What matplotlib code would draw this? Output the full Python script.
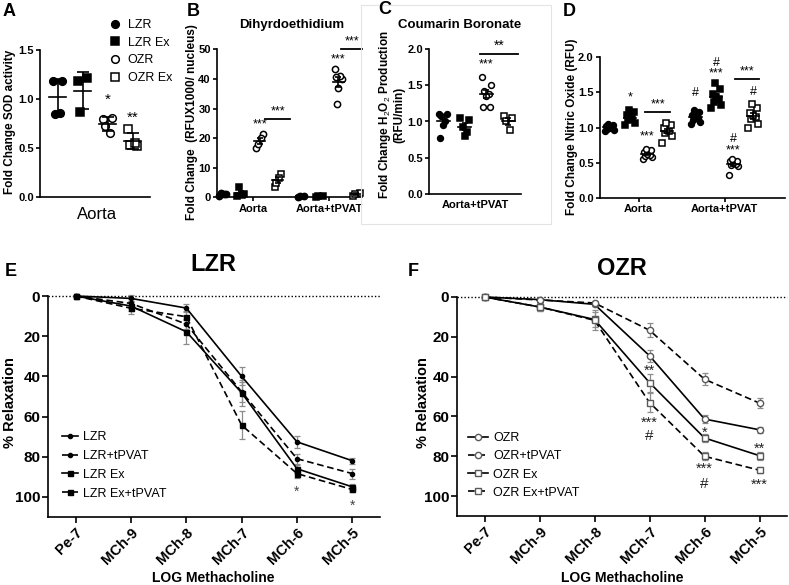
import matplotlib
matplotlib.use("Agg")
import matplotlib.pyplot as plt
from matplotlib.lines import Line2D
from matplotlib.patches import Rectangle
import numpy as np

plt.rcParams['font.family'] = ['Liberation Sans', 'DejaVu Sans']
plt.rcParams['mathtext.fontset'] = 'custom'
plt.rcParams['mathtext.rm'] = 'Liberation Sans'
plt.rcParams['mathtext.bf'] = 'Liberation Sans:bold'

# ---- A: SOD activity (mean +/- SD)
groups = ['LZR', 'LZR Ex', 'OZR', 'OZR Ex']
sod_lzr = [1.18, 1.18, 0.85, 0.86]
sod_lzr_ex = [1.18, 1.21, 0.87]
sod_ozr = [0.80, 0.81, 0.72, 0.65]
sod_ozr_ex = [0.69, 0.52, 0.53, 0.55]

# ---- B: Dihydroethidium
dhe_aorta = [[0.5, 1.0, 1.5, 1.2], [0.5, 1.0, 3.5, 0.8],
             [16.5, 21.5, 18.0, 20.0], [3.5, 8.0, 5.0, 6.5]]
dhe_tpvat = [[0.2, 0.3, 0.4], [0.2, 0.4, 0.3],
             [43.5, 40.0, 31.5, 41.0, 37.0, 40.5], [0.5, 1.5, 1.0]]

# ---- C: Coumarin boronate
cb_lzr = [1.10, 1.10, 1.08, 1.00, 0.95, 0.77]
cb_lzr_ex = [1.05, 1.02, 0.93, 0.85, 0.80]
cb_ozr = [1.62, 1.50, 1.42, 1.38, 1.35, 1.20, 1.20]
cb_ozr_ex = [1.08, 1.05, 1.00, 0.88]

# ---- D: Nitric oxide
no_aorta = [[0.95, 0.97, 0.98, 1.00, 1.00, 1.02, 1.04, 1.05],
            [1.03, 1.07, 1.10, 1.12, 1.15, 1.18, 1.22, 1.25],
            [0.55, 0.58, 0.60, 0.61, 0.62, 0.65, 0.68, 0.70],
            [0.78, 0.88, 0.92, 0.95, 0.97, 1.00, 1.03, 1.07]]
no_tpvat = [[1.05, 1.08, 1.10, 1.13, 1.15, 1.18, 1.22, 1.25],
            [1.28, 1.32, 1.36, 1.40, 1.43, 1.48, 1.55, 1.63],
            [0.33, 0.45, 0.47, 0.48, 0.50, 0.52, 0.53, 0.55],
            [1.00, 1.05, 1.12, 1.15, 1.18, 1.20, 1.28, 1.33]]

# ---- E/F: relaxation curves
doses = ['Pe-7', 'MCh-9', 'MCh-8', 'MCh-7', 'MCh-6', 'MCh-5']
lzr = [0, 1.2, 6.0, 40.0, 72.6, 82.0]
lzr_err = [0, 1.5, 2.0, 4.5, 3.0, 1.5]
lzr_tpvat = [0, 3.7, 14.0, 47.7, 81.0, 88.4]
lzr_tpvat_err = [0, 2.0, 2.5, 5.0, 2.5, 2.5]
lzr_ex = [0, 5.0, 17.8, 48.2, 86.0, 95.0]
lzr_ex_err = [0, 2.5, 6.0, 6.5, 2.0, 1.5]
lzr_ex_tpvat = [0, 6.1, 10.3, 64.3, 88.4, 96.3]
lzr_ex_tpvat_err = [0, 3.0, 3.0, 7.0, 2.0, 1.5]

ozr = [0, 1.3, 3.7, 29.5, 61.3, 66.7]
ozr_err = [0, 1.0, 1.0, 3.0, 2.0, 1.5]
ozr_tpvat = [0, 1.5, 3.0, 16.7, 41.3, 53.3]
ozr_tpvat_err = [0, 1.0, 1.0, 3.5, 3.0, 2.5]
ozr_ex = [0, 5.0, 11.3, 43.0, 70.8, 79.7]
ozr_ex_err = [0, 2.0, 4.0, 4.5, 2.0, 2.0]
ozr_ex_tpvat = [0, 5.0, 11.7, 53.0, 80.0, 87.0]
ozr_ex_tpvat_err = [0, 2.0, 5.0, 5.0, 2.0, 1.5]

W, H = 789, 585
fig = plt.figure(figsize=(W / 100, H / 100), dpi=100)


def px_axes(l, t, r, b):
    return fig.add_axes([l / W, 1 - b / H, (r - l) / W, (b - t) / H])


def ftext(x, y, s, **kw):
    fig.text(x / W, 1 - y / H, s, **kw)


def style(ax, fs=8):
    for s in ['top', 'right']:
        ax.spines[s].set_visible(False)
    for s in ['left', 'bottom']:
        ax.spines[s].set_linewidth(1.2)
    ax.tick_params(width=1.2, length=3, labelsize=fs, pad=1.5)
    for lab in ax.get_yticklabels() + ax.get_xticklabels():
        lab.set_fontweight('bold')


PATTERN = np.array([-1, 1, -0.5, 0.5, 0, -0.75, 0.75, -0.25, 0.25])
MARKS = [('o', True), ('s', True), ('o', False), ('s', False)]


def dotplot(ax, xc, vals, marker, filled, ms, spread, half, cap, sd=False, lw=1.2):
    vals = np.asarray(vals, dtype=float)
    n = len(vals)
    offs = PATTERN[:n] * spread
    ax.plot(xc + offs, vals, ls='none', marker=marker, ms=ms,
            mfc='black' if filled else 'white', mec='black', mew=1.1,
            clip_on=False, zorder=3)
    m = vals.mean()
    e = vals.std(ddof=1) if sd else vals.std(ddof=1) / np.sqrt(n)
    ax.plot([xc - half, xc + half], [m, m], color='black', lw=lw, zorder=4)
    ax.errorbar(xc, m, yerr=e, fmt='none', ecolor='black', elinewidth=lw,
                capsize=cap, capthick=lw, zorder=4)


# ================= A
axA = px_axes(40, 50, 150, 197)
for i, vals in enumerate([sod_lzr, sod_lzr_ex, sod_ozr, sod_ozr_ex]):
    mk, fl = MARKS[i]
    dotplot(axA, i, vals, mk, fl, 5.5, 0.18, 0.35, 4, sd=True)
axA.set_xlim(-0.7, 3.7)
axA.set_ylim(0, 1.5)
axA.set_yticks([0, 0.5, 1.0, 1.5])
axA.set_yticklabels(['0.0', '0.5', '1.0', '1.5'])
axA.set_xticks([1.6])
axA.set_xticklabels(['Aorta'], fontsize=12)
style(axA)
axA.tick_params(axis='x', length=0, pad=7, labelsize=12)
for lab in axA.get_xticklabels():
    lab.set_fontweight('normal')
axA.text(2, 0.99, '*', ha='center', va='center', fontsize=11)
axA.text(3, 0.81, '**', ha='center', va='center', fontsize=11)
ftext(10.5, 122, 'Fold Change SOD activity', rotation=90, ha='center',
      va='center', fontsize=8.5, fontweight='bold')
hA = [Line2D([], [], ls='none', marker=mk, ms=5.5, mfc='black' if fl else 'white',
             mec='black', mew=1.1) for mk, fl in MARKS]
fig.legend(hA, groups, loc='upper left', bbox_to_anchor=(109 / W, 1 - 19 / H),
           frameon=False, fontsize=9, borderpad=0, handlelength=1.0,
           handletextpad=0.5, labelspacing=0.45, borderaxespad=0)

# ================= B
axB = px_axes(217, 49.3, 362, 197.3)
offs4 = [-0.35, -0.12, 0.12, 0.35]
for g, grp in enumerate([dhe_aorta, dhe_tpvat]):
    for i, vals in enumerate(grp):
        mk, fl = MARKS[i]
        dotplot(axB, g + offs4[i], vals, mk, fl, 4.5, 0.04, 0.07, 2.5)
axB.set_xlim(-0.42, 1.42)
axB.set_ylim(0, 50)
axB.set_yticks([0, 10, 20, 30, 40, 50])
axB.set_xticks([0.04, 1.0])
axB.set_xticklabels(['Aorta', 'Aorta+tPVAT'])
style(axB)
axB.text(0.12, 24.6, '***', ha='center', va='center', fontsize=9)
axB.plot([0.19, 0.51], [26.3, 26.3], color='black', lw=1.3, clip_on=False)
axB.text(0.35, 29.0, '***', ha='center', va='center', fontsize=9)
axB.text(1.12, 46.5, '***', ha='center', va='center', fontsize=9, clip_on=False)
axB.plot([1.15, 1.42], [50, 50], color='black', lw=1.3, clip_on=False)
axB.text(1.29, 52.8, '***', ha='center', va='center', fontsize=9)
ftext(292, 25, 'Dihyrdoethidium', ha='center', va='center', fontsize=9.5,
      fontweight='bold')
ftext(192, 122, 'Fold Change  (RFUX1000/ nucleus)', rotation=90, ha='center',
      va='center', fontsize=8.5, fontweight='bold')

# ================= C
fig.patches.append(Rectangle((361 / W, 1 - 224 / H), 190 / W, 219 / H,
                             transform=fig.transFigure, fill=False,
                             edgecolor='#e4e4e4', lw=0.8))
axC = px_axes(429, 49, 521, 194)
for i, vals in enumerate([cb_lzr, cb_lzr_ex, cb_ozr, cb_ozr_ex]):
    mk, fl = MARKS[i]
    dotplot(axC, i, vals, mk, fl, 4.2, 0.2, 0.3, 2.5)
axC.set_xlim(-0.65, 3.6)
axC.set_ylim(0, 2.0)
axC.set_yticks([0, 0.5, 1.0, 1.5, 2.0])
axC.set_yticklabels(['0.0', '0.5', '1.0', '1.5', '2.0'])
axC.set_xticks([1.5])
axC.set_xticklabels(['Aorta+tPVAT'])
style(axC)
axC.tick_params(axis='x', length=0, pad=4)
axC.text(2, 1.79, '***', ha='center', va='center', fontsize=9)
axC.plot([1.7, 3.46], [1.93, 1.93], color='black', lw=1.3, clip_on=False)
axC.text(2.58, 2.04, '**', ha='center', va='center', fontsize=10)
ftext(460, 25, 'Coumarin Boronate', ha='center', va='center', fontsize=9.5,
      fontweight='bold')
ftext(391, 115, 'Fold Change H$_2$O$_2$ Production\n(RFU/min)', rotation=90,
      ha='center', va='center', multialignment='center', fontsize=8.5,
      fontweight='bold', linespacing=1.1)

# ================= D
axD = px_axes(600, 57, 785, 198)
offsD = [-0.34, -0.1, 0.1, 0.33]
for g, grp in enumerate([no_aorta, no_tpvat]):
    for i, vals in enumerate(grp):
        mk, fl = MARKS[i]
        dotplot(axD, g + offsD[i], vals, mk, fl, 4.2, 0.055, 0.07, 2.5)
axD.set_xlim(-0.45, 1.70)
axD.set_ylim(0, 2.0)
axD.set_yticks([0, 0.5, 1.0, 1.5, 2.0])
axD.set_yticklabels(['0.0', '0.5', '1.0', '1.5', '2.0'])
axD.set_xticks([0, 1])
axD.set_xticklabels(['Aorta', 'Aorta+tPVAT'], fontsize=8.5)
style(axD)
ann = [(-0.1, 1.43, '*'), (0.1, 0.87, '***'), (0.22, 1.33, '***'),
       (0.66, 1.49, '#'), (0.9, 1.76, '***'), (0.9, 1.92, '#'),
       (1.1, 0.68, '***'), (1.1, 0.84, '#'), (1.26, 1.80, '***'),
       (1.33, 1.50, '#')]
for x, y, s in ann:
    axD.text(x, y, s, ha='center', va='center', fontsize=9, clip_on=False)
axD.plot([0.07, 0.36], [1.22, 1.22], color='black', lw=1.3)
axD.plot([1.12, 1.40], [1.69, 1.69], color='black', lw=1.3)
ftext(572, 127, 'Fold Change Nitric Oxide (RFU)', rotation=90, ha='center',
      va='center', fontsize=8.5, fontweight='bold')

# ================= E / F
xpos = np.arange(len(doses))
DASH = (0, (4, 2.2))


def curve(ax, y, err, ls, marker, ms, filled, mec):
    ax.errorbar(xpos, y, yerr=err, fmt='none', ecolor='#8c8c8c', elinewidth=0.9,
                capsize=2, capthick=0.9, zorder=2, clip_on=False)
    ax.plot(xpos, y, ls=ls, color='black', lw=1.2, marker=marker, ms=ms,
            mfc=mec if filled else 'white', mec=mec, mew=1.0, zorder=3,
            clip_on=False)
    return Line2D([], [], ls=ls, color='black', lw=1.2, marker=marker, ms=ms,
                  mfc=mec if filled else 'white', mec=mec, mew=1.0)


def curve_axes(ax):
    ax.set_xlim(-0.5, 5.5)
    ax.set_ylim(110, 0)
    ax.set_yticks([0, 20, 40, 60, 80, 100])
    ax.set_xticks(xpos)
    ax.set_xticklabels(doses, rotation=45, ha='right', rotation_mode='anchor')
    ax.axhline(0, color='black', lw=1.0, ls=(0, (1, 1.5)), zorder=1, clip_on=False)
    style(ax, fs=11)
    ax.tick_params(axis='x', labelsize=10.5, length=4, pad=2)
    ax.tick_params(axis='y', length=4)
    ax.spines['left'].set_bounds(0, 110)


axE = px_axes(48, 296, 380, 517)
hE = [curve(axE, lzr, lzr_err, '-', 'o', 3.0, True, 'black'),
      curve(axE, lzr_tpvat, lzr_tpvat_err, DASH, 'o', 3.0, True, 'black'),
      curve(axE, lzr_ex, lzr_ex_err, '-', 's', 3.6, True, 'black'),
      curve(axE, lzr_ex_tpvat, lzr_ex_tpvat_err, DASH, 's', 3.6, True, 'black')]
curve_axes(axE)
axE.text(4, 97.5, '*', ha='center', va='center', fontsize=10, color='#444444')
axE.text(5, 104.5, '*', ha='center', va='center', fontsize=10, color='#444444')
fig.legend(hE, ['LZR', 'LZR+tPVAT', 'LZR Ex', 'LZR Ex+tPVAT'], loc='upper left',
           bbox_to_anchor=(62 / W, 1 - 431 / H), frameon=False, fontsize=9,
           borderpad=0, handlelength=1.3, handletextpad=0.35, labelspacing=0.55,
           borderaxespad=0)
ftext(213, 265, 'LZR', ha='center', va='center', fontsize=17, fontweight='bold')
ftext(213, 578, 'LOG Methacholine', ha='center', va='center', fontsize=10,
      fontweight='bold')
ftext(10, 403, '% Relaxation', rotation=90, ha='center', va='center',
      fontsize=10.5, fontweight='bold')

axF = px_axes(457, 297, 787, 516)
grey = '#5a5a5a'
hF = [curve(axF, ozr, ozr_err, '-', 'o', 4.5, False, grey),
      curve(axF, ozr_tpvat, ozr_tpvat_err, DASH, 'o', 4.5, False, grey),
      curve(axF, ozr_ex, ozr_ex_err, '-', 's', 4.5, False, grey),
      curve(axF, ozr_ex_tpvat, ozr_ex_tpvat_err, DASH, 's', 4.5, False, grey)]
curve_axes(axF)
annF = [(3, 37.0, '**'), (3, 63.0, '***'), (3, 70.0, '#'),
        (4, 68.0, '*'), (4, 86.5, '***'), (4, 94.0, '#'),
        (5, 76.0, '**'), (5, 94.5, '***')]
for x, y, s in annF:
    axF.text(x, y, s, ha='center', va='center', fontsize=10.5 if s != '#' else 11,
             color='#222222')
fig.legend(hF, ['OZR', 'OZR+tPVAT', 'OZR Ex', 'OZR Ex+tPVAT'], loc='upper left',
           bbox_to_anchor=(468 / W, 1 - 432 / H), frameon=False, fontsize=9,
           borderpad=0, handlelength=1.6, handletextpad=0.4, labelspacing=0.5,
           borderaxespad=0)
ftext(622, 269, 'OZR', ha='center', va='center', fontsize=17, fontweight='bold')
ftext(622, 578, 'LOG Methacholine', ha='center', va='center', fontsize=10,
      fontweight='bold')
ftext(423, 403, '% Relaxation', rotation=90, ha='center', va='center',
      fontsize=10.5, fontweight='bold')

# panel letters
for x, y, s in [(9, 12, 'A'), (193, 12, 'B'), (385, 9, 'C'), (569, 11, 'D'),
                (11, 271, 'E'), (413, 271, 'F')]:
    ftext(x, y, s, ha='center', va='center', fontsize=13, fontweight='bold')

fig.savefig('out.png', dpi=100)
